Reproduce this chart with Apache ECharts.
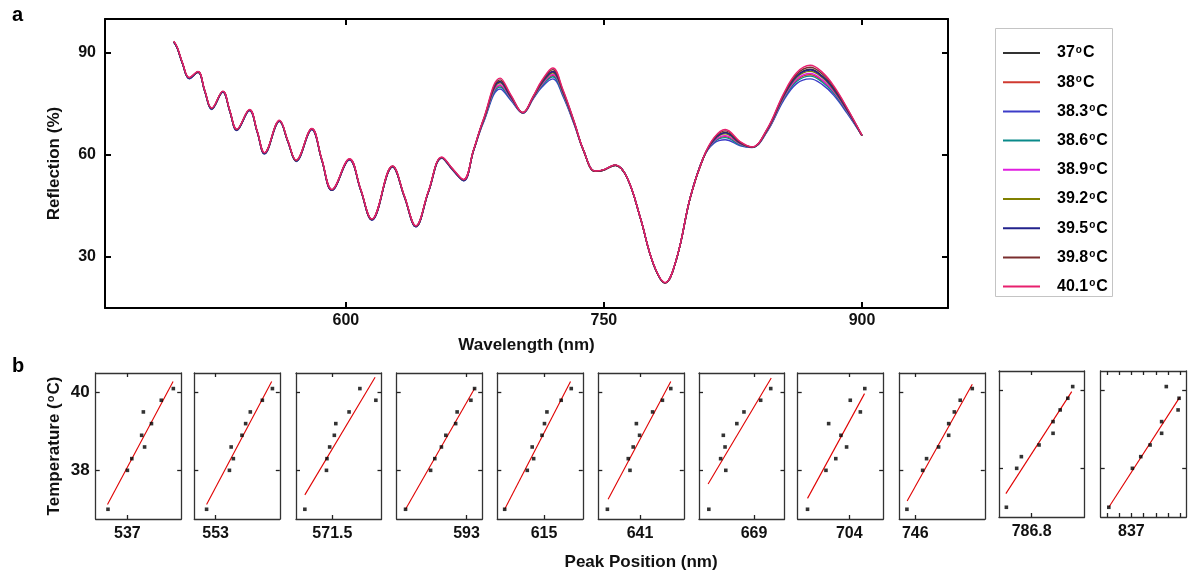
<!DOCTYPE html>
<html><head><meta charset="utf-8">
<script src="https://cdn.jsdelivr.net/npm/echarts@6/dist/echarts.min.js"></script>
<style>html,body{margin:0;padding:0;background:#fff}#c{width:1190px;height:577px}</style>
</head><body><div id="c"></div>
<script>
// ---------- Panel a data ----------
const wavelength = [500, 502, 505, 509, 514, 518, 522, 528.5, 532.5, 536.6, 544, 548.5, 552.7, 561.4, 566.3, 571.1, 580.2, 586, 591.9, 602.1, 608.6, 615.1, 627.1, 634, 640.7, 648, 655.8, 662, 668.4, 674.2, 680, 689.7, 696, 702.9, 709, 714, 720.3, 726, 733, 738, 745, 750, 756.6, 763.4, 771.1, 778.8, 785.6, 792.4, 800.2, 807.9, 814, 820.5, 829.3, 836, 844.8, 854.4, 862, 869.9, 877, 883.5, 891.3, 900];
const refl37   = [93.3, 91.5, 87.0, 82.6, 84.4, 78.8, 73.6, 78.6, 73.0, 67.4, 73.2, 66.8, 60.5, 70.0, 64.0, 58.3, 67.6, 58.6, 49.7, 58.7, 49.8, 41.0, 56.6, 47.8, 39.0, 49.2, 59.2, 55.8, 52.6, 61.3, 70.3, 81.6, 77.1, 72.4, 77.2, 81.4, 84.6, 78.9, 69.2, 61.5, 55.2, 55.6, 57.0, 53.4, 41.6, 27.9, 22.4, 29.8, 47.5, 59.3, 64.6, 66.6, 63.5, 62.3, 67.4, 77.4, 83.2, 85.2, 83.2, 79.6, 73.4, 65.7];
const refl38   = [93.3, 91.5, 87.0, 82.6, 84.4, 78.8, 73.6, 78.6, 73.0, 67.4, 73.2, 66.8, 60.5, 70.0, 64.0, 58.3, 67.6, 58.6, 49.7, 58.7, 49.8, 41.0, 56.6, 47.8, 39.0, 49.2, 59.2, 55.8, 52.6, 61.3, 69.9, 80.4, 76.5, 72.4, 76.8, 80.6, 83.4, 78.1, 68.8, 61.5, 55.2, 55.6, 57.0, 53.4, 41.6, 27.9, 22.4, 29.8, 47.5, 59.3, 64.0, 65.4, 63.1, 62.3, 67.0, 76.6, 82.0, 83.6, 81.8, 78.4, 72.8, 65.7];
const refl38_3 = [93.2, 91.4, 86.9, 82.4, 84.3, 78.7, 73.4, 78.5, 72.9, 67.2, 73.1, 66.7, 60.3, 69.9, 63.9, 58.1, 67.5, 58.5, 49.6, 58.6, 49.7, 40.9, 56.5, 47.7, 38.9, 49.1, 59.0, 55.6, 52.4, 61.2, 69.6, 79.4, 76.0, 72.3, 76.6, 80.0, 82.4, 77.5, 68.6, 61.5, 55.2, 55.6, 57.0, 53.4, 41.6, 27.9, 22.4, 29.8, 47.5, 59.3, 63.5, 64.5, 62.7, 62.2, 66.8, 76.0, 81.0, 82.4, 80.7, 77.6, 72.3, 65.7];
const refl38_6 = [93.3, 91.5, 87.0, 82.5, 84.4, 78.8, 73.5, 78.6, 73.0, 67.3, 73.2, 66.8, 60.4, 70.0, 64.0, 58.2, 67.6, 58.6, 49.7, 58.7, 49.8, 41.0, 56.6, 47.8, 39.0, 49.2, 59.1, 55.7, 52.5, 61.3, 69.8, 80.0, 76.3, 72.4, 76.8, 80.4, 83.0, 77.9, 68.8, 61.5, 55.2, 55.6, 57.0, 53.4, 41.6, 27.9, 22.4, 29.8, 47.5, 59.3, 63.8, 65.1, 62.9, 62.3, 67.0, 76.4, 81.6, 83.2, 81.4, 78.2, 72.6, 65.7];
const refl38_9 = [93.3, 91.5, 87.0, 82.6, 84.4, 78.8, 73.6, 78.6, 73.0, 67.4, 73.2, 66.8, 60.5, 70.0, 64.0, 58.3, 67.6, 58.6, 49.7, 58.7, 49.8, 41.0, 56.6, 47.8, 39.0, 49.2, 59.2, 55.8, 52.6, 61.3, 70.0, 80.7, 76.6, 72.4, 76.9, 80.8, 83.7, 78.3, 68.9, 61.5, 55.2, 55.6, 57.0, 53.4, 41.6, 27.9, 22.4, 29.8, 47.5, 59.3, 64.1, 65.7, 63.2, 62.3, 67.1, 76.8, 82.3, 84.0, 82.1, 78.7, 72.9, 65.7];
const refl39_2 = [93.3, 91.5, 87.0, 82.6, 84.4, 78.8, 73.6, 78.6, 73.0, 67.4, 73.2, 66.8, 60.5, 70.0, 64.0, 58.3, 67.6, 58.6, 49.7, 58.7, 49.8, 41.0, 56.6, 47.8, 39.0, 49.2, 59.2, 55.8, 52.6, 61.3, 70.2, 81.2, 76.9, 72.4, 77.0, 81.1, 84.2, 78.6, 69.0, 61.5, 55.2, 55.6, 57.0, 53.4, 41.6, 27.9, 22.4, 29.8, 47.5, 59.3, 64.4, 66.2, 63.4, 62.3, 67.2, 77.1, 82.8, 84.6, 82.7, 79.1, 73.2, 65.7];
const refl39_5 = [93.2, 91.4, 86.9, 82.5, 84.3, 78.7, 73.5, 78.5, 72.9, 67.3, 73.1, 66.7, 60.4, 69.9, 63.9, 58.2, 67.5, 58.5, 49.6, 58.6, 49.7, 40.9, 56.5, 47.7, 38.9, 49.1, 59.2, 55.7, 52.5, 61.3, 70.3, 81.5, 77.0, 72.4, 77.1, 81.3, 84.5, 78.8, 69.1, 61.5, 55.2, 55.6, 57.0, 53.4, 41.6, 27.9, 22.4, 29.8, 47.5, 59.3, 64.5, 66.5, 63.5, 62.3, 67.3, 77.3, 83.1, 85.0, 83.0, 79.4, 73.3, 65.7];
const refl39_8 = [93.4, 91.6, 87.1, 82.7, 84.5, 78.9, 73.7, 78.7, 73.1, 67.5, 73.3, 66.9, 60.6, 70.1, 64.1, 58.4, 67.7, 58.7, 49.8, 58.8, 49.9, 41.1, 56.7, 47.9, 39.1, 49.3, 59.3, 55.9, 52.7, 61.4, 70.4, 82.1, 77.4, 72.5, 77.3, 81.7, 85.1, 79.2, 69.3, 61.5, 55.2, 55.6, 57.0, 53.4, 41.6, 27.9, 22.4, 29.8, 47.5, 59.3, 64.9, 67.1, 63.7, 62.3, 67.5, 77.7, 83.7, 85.8, 83.8, 80.0, 73.7, 65.7];
const refl40_1 = [93.5, 91.7, 87.2, 82.8, 84.6, 79.0, 73.8, 78.8, 73.2, 67.6, 73.4, 67.0, 60.7, 70.2, 64.2, 58.5, 67.8, 58.8, 49.9, 58.9, 50.0, 41.2, 56.8, 48.0, 39.2, 49.4, 59.4, 56.0, 52.8, 61.5, 70.6, 82.6, 77.6, 72.5, 77.4, 82.0, 85.6, 79.5, 69.4, 61.6, 55.3, 55.7, 57.1, 53.5, 41.7, 28.0, 22.5, 29.9, 47.6, 59.4, 65.1, 67.5, 63.9, 62.4, 67.6, 78.0, 84.2, 86.4, 84.3, 80.4, 73.9, 65.8];
const seriesNames = ['37', '38', '38.3', '38.6', '38.9', '39.2', '39.5', '39.8', '40.1'];
const reflectionSeries = [refl37, refl38, refl38_3, refl38_6, refl38_9, refl39_2, refl39_5, refl39_8, refl40_1];
const wavelengthTicks = [600, 750, 900];
const reflectionTicks = [30, 60, 90];

// ---------- Panel b data ----------
const temperatures = [37, 38, 38.3, 38.6, 38.9, 39.2, 39.5, 39.8, 40.1];
const temperatureTicks = [38, 40];
const peakTickLabels = [537, 553, 571.5, 593, 615, 641, 669, 704, 746, 786.8, 837];
const ticks837 = [836, 836.5, 837, 837.5, 838, 838.5, 839];
const panelMin = [535.71, 552.13, 570.02, 590.16, 613.10, 639.30, 666.76, 701.90, 745.35, 785.47, 835.75];
const panelMax = [539.19, 555.61, 573.50, 593.64, 616.58, 642.78, 670.24, 705.38, 748.83, 788.95, 839.23];
const pos537   = [536.21, 537.00, 537.18, 537.70, 537.58, 537.98, 537.65, 538.38, 538.87];
const pos553   = [552.63, 553.56, 553.72, 553.63, 554.07, 554.22, 554.41, 554.90, 555.31];
const pos571_5 = [570.38, 571.26, 571.28, 571.39, 571.58, 571.64, 572.18, 573.27, 572.62];
const pos593   = [590.52, 591.54, 591.71, 591.98, 592.16, 592.56, 592.62, 593.18, 593.33];
const pos615   = [613.40, 614.32, 614.58, 614.52, 614.92, 615.02, 615.12, 615.70, 616.11];
const pos641   = [639.67, 640.59, 640.52, 640.72, 640.98, 640.85, 641.51, 641.91, 642.25];
const pos669   = [667.16, 667.85, 667.64, 667.82, 667.75, 668.30, 668.59, 669.27, 669.68];
const pos704   = [702.30, 703.05, 703.45, 703.89, 703.66, 703.16, 704.45, 704.04, 704.63];
const pos746   = [745.66, 746.30, 746.46, 746.95, 747.36, 747.36, 747.59, 747.83, 748.32];
const pos786_8 = [785.77, 786.19, 786.38, 787.10, 787.67, 787.67, 787.96, 788.27, 788.47];
const pos837   = [836.08, 837.04, 837.38, 837.76, 838.23, 838.23, 838.90, 838.94, 838.42];
const peakPositions = [pos537, pos553, pos571_5, pos593, pos615, pos641, pos669, pos704, pos746, pos786_8, pos837];
const fitStartX = [536.19, 552.63, 570.38, 590.52, 613.40, 639.70, 667.13, 702.30, 745.67, 785.75, 836.08];
const fitStartT = [37.12, 37.12, 37.37, 37.00, 37.00, 37.26, 37.65, 37.28, 37.21, 37.35, 37.00];
const fitEndX   = [538.86, 555.28, 573.24, 593.33, 616.08, 642.25, 669.70, 704.62, 748.32, 788.43, 838.97];
const fitEndT   = [40.28, 40.28, 40.39, 40.10, 40.28, 40.28, 40.37, 39.97, 40.21, 39.97, 39.83];

// ---------- layout & style ----------
const FONT = 'Liberation Sans, Arial, Helvetica, sans-serif';
const lineColors = ['#333333', '#d03a30', '#3c3cc8', '#0a8a8a', '#e01ee0', '#808000', '#22228c', '#7a2e2e', '#e8206e'];
const panelLeft = [95.7, 194.3, 296, 396.7, 497.3, 598.3, 699, 797.7, 899.3, 999, 1100.7];
const panelTop = [373, 373, 373, 373, 373, 373, 373, 373, 373, 371, 371];
const richDeg = {
  n: { fontSize: 16, fontWeight: 'bold', color: '#000', fontFamily: FONT },
  o: { fontSize: 10, fontWeight: 'bold', color: '#000', fontFamily: FONT, padding: [0, 1, 6, 1] }
};

const grids = [{ left: 105, top: 19, width: 843, height: 289 }];
panelLeft.forEach((l, i) => grids.push({ left: l, top: panelTop[i], width: 85.5, height: 146 }));

const xAxes = [], yAxes = [], series = [];
const topAxisLine = { lineStyle: { color: '#000', width: 2 } };
const topTick = vals => ({ show: true, inside: true, length: 6, customValues: vals, lineStyle: { color: '#000', width: 2 } });
const topLabel = (vals, margin) => ({ customValues: vals, fontSize: 16, fontWeight: 'bold', color: '#111', fontFamily: FONT, margin: margin });

xAxes.push({ type: 'value', gridIndex: 0, min: 460, max: 950, position: 'bottom', axisLine: topAxisLine,
  axisTick: topTick(wavelengthTicks), axisLabel: topLabel(wavelengthTicks, 5), splitLine: { show: false },
  name: 'Wavelength (nm)', nameLocation: 'middle', nameGap: 29,
  nameTextStyle: { fontSize: 17, fontWeight: 'bold', color: '#111', fontFamily: FONT } });
xAxes.push({ type: 'value', gridIndex: 0, min: 460, max: 950, position: 'top', axisLine: topAxisLine,
  axisTick: topTick(wavelengthTicks), axisLabel: { show: false }, splitLine: { show: false } });
yAxes.push({ type: 'value', gridIndex: 0, min: 15, max: 100, position: 'left', axisLine: topAxisLine,
  axisTick: topTick(reflectionTicks), axisLabel: topLabel(reflectionTicks, 9), splitLine: { show: false },
  name: 'Reflection (%)', nameLocation: 'middle', nameGap: 42,
  nameTextStyle: { fontSize: 17, fontWeight: 'bold', color: '#111', fontFamily: FONT } });
yAxes.push({ type: 'value', gridIndex: 0, min: 15, max: 100, position: 'right', axisLine: topAxisLine,
  axisTick: topTick(reflectionTicks), axisLabel: { show: false }, splitLine: { show: false } });

reflectionSeries.forEach((arr, i) => {
  series.push({ type: 'line', name: seriesNames[i], xAxisIndex: 0, yAxisIndex: 0,
    data: wavelength.map((w, k) => [w, arr[k]]), smooth: 0.4, showSymbol: false, symbol: 'none',
    lineStyle: { color: lineColors[i], width: 1.4 }, itemStyle: { color: lineColors[i] }, z: 2 + i });
});

const pAxisLine = { lineStyle: { color: '#333', width: 1.3 } };
const pTick = vals => ({ show: true, inside: true, length: 4, customValues: vals, lineStyle: { color: '#222', width: 1.3 } });

peakTickLabels.forEach((lab, i) => {
  const g = i + 1;
  const tv = i === 10 ? ticks837 : [lab];
  xAxes.push({ type: 'value', gridIndex: g, min: panelMin[i], max: panelMax[i], position: 'bottom', axisLine: pAxisLine,
    axisTick: pTick(tv), splitLine: { show: false },
    axisLabel: { customValues: [lab], formatter: v => String(lab), fontSize: 16, fontWeight: 'bold', color: '#111', fontFamily: FONT, margin: 7 },
    name: i === 5 ? 'Peak Position (nm)' : '', nameLocation: 'middle', nameGap: 35,
    nameTextStyle: { fontSize: 17, fontWeight: 'bold', color: '#111', fontFamily: FONT } });
  xAxes.push({ type: 'value', gridIndex: g, min: panelMin[i], max: panelMax[i], position: 'top', axisLine: pAxisLine,
    axisTick: pTick(tv), axisLabel: { show: false }, splitLine: { show: false } });
  yAxes.push({ type: 'value', gridIndex: g, min: 36.75, max: 40.5, position: 'left', axisLine: pAxisLine,
    axisTick: pTick(temperatureTicks), splitLine: { show: false },
    axisLabel: { show: i === 0, customValues: temperatureTicks, fontSize: 17, fontWeight: 'bold', color: '#111', fontFamily: FONT, margin: 6 },
    name: i === 0 ? '{n|Temperature (}{o|o}{n|C)}' : '', nameLocation: 'middle', nameGap: 33,
    nameTextStyle: { rich: { n: { fontSize: 17, fontWeight: 'bold', color: '#111', fontFamily: FONT }, o: { fontSize: 11, fontWeight: 'bold', color: '#111', fontFamily: FONT, padding: [0, 1, 6, 1] } } } });
  yAxes.push({ type: 'value', gridIndex: g, min: 36.75, max: 40.5, position: 'right', axisLine: pAxisLine,
    axisTick: pTick(temperatureTicks), axisLabel: { show: false }, splitLine: { show: false } });
  const ax = 2 + 2 * i;
  series.push({ type: 'line', xAxisIndex: ax, yAxisIndex: ax, data: [[fitStartX[i], fitStartT[i]], [fitEndX[i], fitEndT[i]]],
    showSymbol: false, symbol: 'none', lineStyle: { color: '#e00000', width: 1.1 }, z: 3, silent: true });
  series.push({ type: 'scatter', xAxisIndex: ax, yAxisIndex: ax, data: peakPositions[i].map((x, k) => [x, temperatures[k]]),
    symbol: 'rect', symbolSize: 3.6, itemStyle: { color: '#000' }, z: 4 });
});

const option = {
  animation: false,
  backgroundColor: '#fff',
  grid: grids,
  xAxis: xAxes,
  yAxis: yAxes,
  legend: {
    data: seriesNames, orient: 'vertical', left: 998, top: 40, itemWidth: 37, itemHeight: 14, itemGap: 13.2,
    icon: 'path://M0,6 L37,6 L37,8 L0,8 Z',
    formatter: name => '{n|' + name + '}{o|o}{n|C}',
    textStyle: { rich: richDeg, padding: [0, 0, 0, 12] }
  },
  graphic: [
    { type: 'rect', shape: { x: 995.5, y: 28.5, width: 117, height: 268 }, style: { fill: 'none', stroke: '#c4c4c4', lineWidth: 1 }, z: -1 },
    { type: 'text', left: 12, top: 5, style: { text: 'a', font: 'bold 20px ' + FONT, fill: '#000' } },
    { type: 'text', left: 12, top: 356, style: { text: 'b', font: 'bold 20px ' + FONT, fill: '#000' } }
  ],
  series: series
};
const chart = echarts.init(document.getElementById('c'), null, { renderer: 'canvas' });
chart.setOption(option);
</script></body></html>
